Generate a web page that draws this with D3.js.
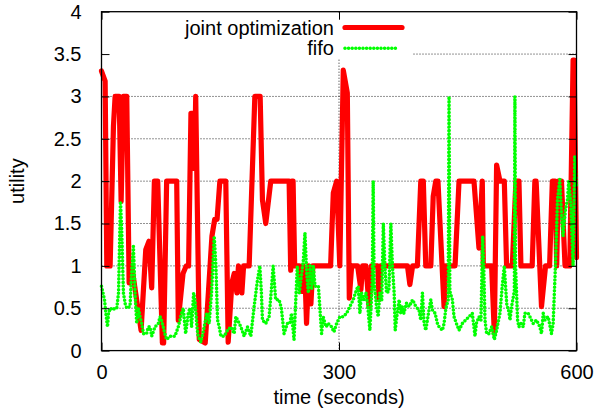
<!DOCTYPE html>
<html>
<head>
<meta charset="utf-8">
<script src="https://cdn.jsdelivr.net/npm/d3@7"></script>
<style>
  body { margin: 0; background: #fff; }
  svg text { font-family: "Liberation Sans", Arial, Helvetica, sans-serif; fill: #000; }
</style>
</head>
<body>
<svg id="chart" width="599" height="410"></svg>
<script>
// Utility over time for the two scheduling strategies: [time (s), utility]
const jointOptimization = [
  [0,3.3],[4.6,3.18],[6.7,1.0],[10.9,1.0],[15.1,2.65],[17.2,3.0],[22.3,3.0],[24.8,1.76],[27.7,3.0],[31.9,3.0],
  [34.9,0.8],[38.2,1.0],[50,0.24],[55.9,1.19],[60,1.29],[63.4,0.74],[66.8,2.0],[71,2.0],[76.9,0.09],[78.5,0.09],
  [82.3,2.0],[95,2.0],[97,0.36],[103,0.91],[107,1.0],[110,1.0],[113,2.8],[116,2.8],[117.5,2.15],[119,3.0],
  [123.5,0.13],[131,0.09],[139.5,1.35],[143,1.55],[146,1.55],[149.5,2.0],[157,2.0],[160,0.1],[164.7,0.8],[167.7,0.91],
  [171,0.68],[173,1.0],[177.3,0.68],[179.5,1.0],[186.5,1.0],[193.7,3.0],[200.4,3.0],[203.3,1.78],[207.5,1.5],[213.8,2.0],
  [237,2.0],[239,0.95],[240.5,2.0],[242,2.0],[244,1.0],[250,1.0],[253,0.7],[255,1.0],[257,0.9],[259,0.32],
  [262,1.0],[264.5,0.55],[267,1.0],[289.4,1.0],[292.8,1.86],[297,2.0],[301,1.0],[305.4,3.31],[310.5,3.04],[313,0.62],
  [316,1.0],[323.5,1.0],[327.7,0.72],[329.8,1.0],[334,1.0],[338,0.52],[341,1.0],[349,1.0],[350.5,0.6],[352,1.0],
  [386.5,1.0],[389.5,0.78],[393,1.0],[399,1.0],[403.3,2.0],[406.5,2.0],[409.6,1.0],[416,1.0],[419,1.82],[422.2,2.0],
  [425,2.0],[432.7,0.52],[434.8,1.0],[446.6,1.0],[451.6,2.0],[470.5,2.0],[476.8,1.21],[481,2.0],[482.3,1.0],[492.8,1.0],
  [496.2,0.2],[499.1,2.19],[503.3,2.0],[508.8,2.0],[511.7,1.0],[518.9,1.0],[523.5,2.0],[527.3,2.0],[529.8,1.0],[544,1.0],
  [547.4,2.0],[549,2.0],[555.8,0.52],[560.9,1.0],[566,1.0],[569.5,2.0],[573,2.0],[575,1.0],[577,2.0],[581,2.0],
  [585.5,1.0],[591.5,1.0],[595.7,3.43],[597,3.43],[600,1.1]
];

const fifo = [
  [0,0.76],[3.8,0.6],[5.5,0.44],[7.6,0.28],[8.8,0.44],[11,0.5],[14,0.48],[17,0.5],[19.3,0.5],[21.5,0.68],
  [24,1.76],[25.6,1.39],[27.7,0.68],[30,0.55],[32,0.5],[36,0.52],[38,0.9],[40.3,1.23],[42.4,0.68],[44.5,0.32],
  [46.6,0.5],[48.7,0.4],[50.8,0.32],[53,0.2],[57,0.2],[59,0.28],[61.3,0.28],[63.4,0.17],[67.6,0.28],[71.8,0.32],
  [74,0.4],[76,0.35],[78,0.28],[80,0.2],[82.3,0.13],[86.5,0.17],[92.8,0.17],[97,0.28],[101.2,0.44],[103.3,0.5],
  [106.3,0.2],[109.6,0.44],[111.7,0.5],[113.8,0.28],[116.4,0.68],[118,0.6],[120.6,0.28],[122,0.17],[125.6,0.1],[129.8,0.28],
  [133,0.44],[136,0.32],[139,0.68],[142.4,1.35],[144.5,1.0],[146.6,0.36],[148.7,0.28],[150.8,0.17],[155,0.17],[159.2,0.24],
  [163.4,0.28],[167.6,0.2],[169.7,0.4],[172,0.36],[176,0.28],[180.2,0.17],[184.4,0.28],[188.6,0.17],[192.8,0.52],[197,0.83],
  [200,1.0],[202,0.68],[203.3,0.36],[207.5,0.32],[211.7,0.4],[214.6,0.72],[216.8,1.0],[220,0.6],[224.3,0.6],[227.2,0.5],
  [230.6,0.2],[234.8,0.32],[238,0.32],[240,0.44],[243.2,0.13],[245.8,0.68],[247.4,1.0],[249.9,0.68],[252.9,0.91],[255,1.07],
  [257,1.39],[259.2,0.91],[261.3,0.68],[263.4,1.0],[265.5,0.72],[267.6,1.0],[269.7,0.76],[274,0.76],[276,0.48],[278,0.2],
  [280,0.4],[283.6,0.28],[286.5,0.32],[290.7,0.28],[293.6,0.22],[297,0.32],[301.2,0.4],[305.4,0.4],[309.6,0.44],[313.8,0.52],
  [318,0.6],[322.2,0.72],[324.3,0.76],[326.4,0.44],[328.5,0.68],[331.4,0.6],[334,0.68],[336,0.56],[339,0.24],[342,0.8],
  [343.2,2.0],[344.4,0.8],[347.4,0.52],[349.5,0.4],[351.6,0.68],[354,0.6],[356,1.5],[358,1.0],[360,0.68],[363,0.7],
  [365.5,1.5],[367.5,1.0],[369.7,0.68],[371,0.24],[373,0.4],[376,0.6],[378,0.44],[380,0.52],[382,0.44],[385.2,0.56],
  [388.6,0.52],[393,0.6],[397,0.52],[401,0.48],[403.3,0.36],[405.4,0.68],[407.5,0.32],[409.6,0.24],[413,0.44],[416,0.6],
  [418,0.48],[421.4,0.44],[424.3,0.32],[426.4,0.28],[430.6,0.24],[432.7,0.32],[435,0.5],[438,0.6],[439,3.0],[440,0.7],
  [443.2,0.6],[445.3,0.4],[448.3,0.32],[451.6,0.24],[455.8,0.32],[460,0.36],[464.2,0.4],[468.4,0.44],[471.8,0.17],[473.5,0.32],
  [476.8,0.4],[479.3,0.36],[481.5,1.35],[482.8,1.0],[484.4,0.36],[486.5,0.2],[489.4,0.2],[492.8,0.28],[496.2,0.13],[499.1,0.24],
  [503.3,0.44],[506.2,0.76],[508.8,1.0],[510.4,0.76],[512.1,0.52],[513.8,0.5],[516,0.36],[518,0.52],[521.5,0.7],[522.2,3.0],
  [523,1.0],[525.6,0.36],[527.3,0.28],[529.8,0.32],[532.7,0.28],[534.8,0.44],[539,0.44],[543.2,0.36],[545.3,0.32],[549.5,0.36],
  [553.7,0.28],[555.8,0.2],[558,0.44],[560,0.36],[564.2,0.4],[568.4,0.2],[570.5,0.32],[573.4,1.0],[576,1.78],[578.9,2.02],
  [581,1.62],[583,1.35],[586,1.66],[588.6,1.78],[590.2,2.0],[592.8,1.74],[595.7,1.0],[597.8,2.29],[600,1.94]
];

const seriesNames = ["joint optimization", "fifo"];
const seriesColors = ["#ff0000", "#00ff00"];
const xTicks = [0, 300, 600];
const yTicks = [0, 0.5, 1, 1.5, 2, 2.5, 3, 3.5, 4];
const xGrid = [300];
const yGrid = [0.5, 1, 1.5, 2, 2.5, 3, 3.5];

const svg = d3.select("#chart");
const plotLeft = 101.5, plotRight = 576.5, plotTop = 11.7, plotBottom = 350.6;
const fontSize = 20;
const x = d3.scaleLinear().domain([0, 600]).range([plotLeft, plotRight]);
const y = d3.scaleLinear().domain([0, 4]).range([plotBottom, plotTop]);

// dotted grid
const grid = svg.append("g").attr("stroke", "#000").attr("stroke-width", 1)
  .attr("stroke-dasharray", "1,2").attr("opacity", 0.85);
grid.selectAll("line.gy").data(yGrid).join("line")
  .attr("x1", plotLeft).attr("x2", plotRight).attr("y1", d => y(d)).attr("y2", d => y(d));
grid.selectAll("line.gx").data(xGrid).join("line")
  .attr("x1", d => x(d)).attr("x2", d => x(d)).attr("y1", plotTop).attr("y2", plotBottom);

// opaque key area
svg.append("rect").attr("x", plotLeft + 1).attr("y", plotTop + 1)
  .attr("width", 413 - plotLeft - 1).attr("height", 59 - plotTop - 1).attr("fill", "#fff");

const line = d3.line().x(d => x(d[0])).y(d => y(d[1]));
const dotPattern = "0 3.6";
const dotWidth = 3.6;

svg.append("path").datum(jointOptimization)
  .attr("d", line).attr("fill", "none")
  .attr("stroke", seriesColors[0]).attr("stroke-width", 5.2)
  .attr("stroke-linejoin", "round").attr("stroke-linecap", "round");

svg.append("path").datum(fifo)
  .attr("d", line).attr("fill", "none")
  .attr("stroke", seriesColors[1]).attr("stroke-width", dotWidth)
  .attr("stroke-dasharray", dotPattern).attr("stroke-linecap", "round");

// axes with inward ticks, mirrored on the opposite sides
const tickLen = 8;
const axisX = d3.axisBottom(x).tickValues(xTicks).tickSizeInner(-tickLen).tickSizeOuter(0).tickPadding(14).tickFormat(d3.format("d"));
const axisXTop = d3.axisTop(x).tickValues(xTicks).tickSizeInner(-tickLen).tickSizeOuter(0).tickFormat("");
const axisY = d3.axisLeft(y).tickValues(yTicks).tickSizeInner(-tickLen).tickSizeOuter(0).tickPadding(20).tickFormat(d => String(d));
const axisYRight = d3.axisRight(y).tickValues(yTicks).tickSizeInner(-tickLen).tickSizeOuter(0).tickFormat("");

function styleAxis(g) {
  g.select(".domain").remove();
  g.selectAll(".tick line").attr("stroke", "#000").attr("stroke-width", 1);
  g.selectAll(".tick text").attr("font-size", fontSize).attr("fill", "#000");
}
svg.append("g").attr("transform", `translate(0,${plotBottom})`).call(axisX).call(styleAxis);
svg.append("g").attr("transform", `translate(0,${plotTop})`).call(axisXTop).call(styleAxis);
svg.append("g").attr("transform", `translate(${plotLeft},0)`).call(axisY).call(styleAxis);
svg.append("g").attr("transform", `translate(${plotRight},0)`).call(axisYRight).call(styleAxis);

// plot border
svg.append("rect").attr("x", plotLeft).attr("y", plotTop)
  .attr("width", plotRight - plotLeft).attr("height", plotBottom - plotTop)
  .attr("fill", "none").attr("stroke", "#000").attr("stroke-width", 1.3);

// key
const key = svg.append("g");
const keyRows = [
  { y: 27.5, dash: null, width: 5.2 },
  { y: 48.3, dash: dotPattern, width: dotWidth }
];
keyRows.forEach((r, i) => {
  key.append("text").attr("x", 334).attr("y", r.y + 7).attr("text-anchor", "end")
    .attr("font-size", fontSize).text(seriesNames[i]);
  const l = key.append("line").attr("x1", 345).attr("x2", i === 0 ? 402 : 398)
    .attr("y1", r.y).attr("y2", r.y).attr("stroke", seriesColors[i])
    .attr("stroke-width", r.width).attr("stroke-linecap", "round");
  if (r.dash) l.attr("stroke-dasharray", r.dash);
});

// axis titles
svg.append("text").attr("x", (plotLeft + plotRight) / 2).attr("y", 404).attr("text-anchor", "middle")
  .attr("font-size", fontSize).text("time (seconds)");
svg.append("text").attr("transform", `translate(24,${(plotTop + plotBottom) / 2}) rotate(-90)`)
  .attr("text-anchor", "middle").attr("font-size", fontSize).text("utility");
</script>
</body>
</html>
